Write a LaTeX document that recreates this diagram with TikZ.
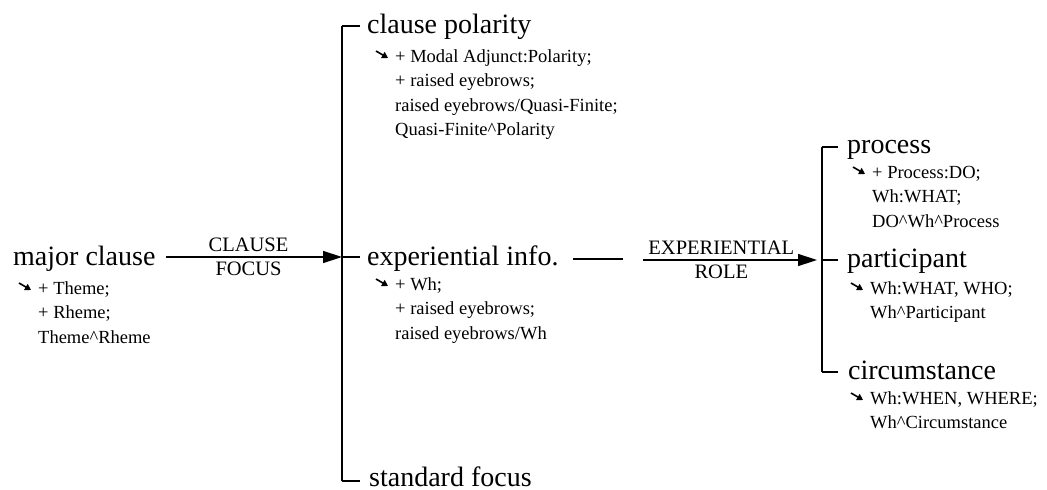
\documentclass[tikz,border=0pt]{standalone}
\usepackage{fontspec}
\setmainfont{Liberation Serif}
\usetikzlibrary{arrows.meta}
\newcommand{\seqcaret}{\textasciicircum}
\newcommand{\featlines}[1]{\begin{tabular}[t]{@{}l@{}}#1\end{tabular}}
\begin{document}
\begin{tikzpicture}[x=1pt,y=-1pt,
  heading/.style={anchor=base west,inner sep=0pt,font=\fontsize{28}{32}\selectfont},
  feats/.style={anchor=base west,inner sep=0pt,font=\fontsize{18.5}{24.5}\selectfont},
  lbl/.style={inner sep=0pt,font=\fontsize{20.5}{24}\selectfont},
  line/.style={line width=1.4pt},
  arr/.style={line width=1.4pt,-{Triangle[length=19pt,width=12pt]}},
  featarr/.style={line width=1.6pt,-{Triangle[length=6pt,width=7pt]}}]
\useasboundingbox (0,0) rectangle (1047,490);

% small realisation arrow in front of a feature block
\newcommand{\realarrow}[1]{\draw[featarr] ([shift={(-19,-11)}]#1) -- ([shift={(-7,-4)}]#1);}

% entry condition
\node[heading] (major) at (13,265) {major clause};
\coordinate (majorp) at (38,294);
\node[feats] (majorf) at (majorp) {\featlines{+ Theme;\\+ Rheme;\\Theme\seqcaret Rheme}};
\realarrow{majorp}

% first system: bracket and options
\coordinate (b1top) at (342,26);
\coordinate (b1mid) at (342,257);
\coordinate (b1bot) at (342,481);
\node[heading] (cpol) at (367,33) {clause polarity};
\coordinate (cpolp) at (395,62);
\node[feats] (cpolf) at (cpolp) {\featlines{+ Modal Adjunct:Polarity;\\+ raised eyebrows;\\raised eyebrows/Quasi-Finite;\\Quasi-Finite\seqcaret Polarity}};
\realarrow{cpolp}
\node[heading] (expi) at (367,265) {experiential info.};
\coordinate (expip) at (395,290);
\node[feats] (expif) at (expip) {\featlines{+ Wh;\\+ raised eyebrows;\\raised eyebrows/Wh}};
\realarrow{expip}
\node[heading] (stdf) at (369,486) {standard focus};

\draw[arr] ([xshift=10pt]major.east |- b1mid) -- (b1mid)
  node[lbl,pos=0.47,above=5pt] (l1a) {CLAUSE}
  node[lbl,pos=0.47,below=4pt] (l1b) {FOCUS};
\draw[line] (b1top) -- (b1bot);
\draw[line] (b1top) -- (b1top -| {360,0});
\draw[line] (b1mid) -- (b1mid -| {360,0});
\draw[line] (b1bot) -- (b1bot -| {360,0});

% second system
\coordinate (b2top) at (822,147);
\coordinate (b2mid) at (822,260);
\coordinate (b2bot) at (822,372);
\coordinate (gapL) at (573,259);
\coordinate (gapR) at (623,259);
\coordinate (a2s) at (643,260);
\draw[line] (gapL) -- (gapR);
\draw[arr] (a2s) -- ([xshift=-5pt]b2mid)
  node[lbl,pos=0.45,above=5pt] (l2a) {EXPERIENTIAL}
  node[lbl,pos=0.45,below=4pt] (l2b) {ROLE};
\draw[line] (b2top) -- (b2bot);
\draw[line] (b2top) -- (b2top -| {838,0});
\draw[line] (b2mid) -- (b2mid -| {838,0});
\draw[line] (b2bot) -- (b2bot -| {838,0});

\node[heading] (proc) at (847,153) {process};
\coordinate (procp) at (872,178);
\node[feats] (procf) at (procp) {\featlines{+ Process:DO;\\Wh:WHAT;\\DO\seqcaret Wh\seqcaret Process}};
\realarrow{procp}
\node[heading] (part) at (847,267) {participant};
\coordinate (partp) at (870,294);
\node[feats] (partf) at (partp) {\featlines{Wh:WHAT, WHO;\\Wh\seqcaret Participant}};
\realarrow{partp}
\node[heading] (circ) at (848,379) {circumstance};
\coordinate (circp) at (870,404);
\node[feats] (circf) at (circp) {\featlines{Wh:WHEN, WHERE;\\Wh\seqcaret Circumstance}};
\realarrow{circp}
\end{tikzpicture}
\end{document}
